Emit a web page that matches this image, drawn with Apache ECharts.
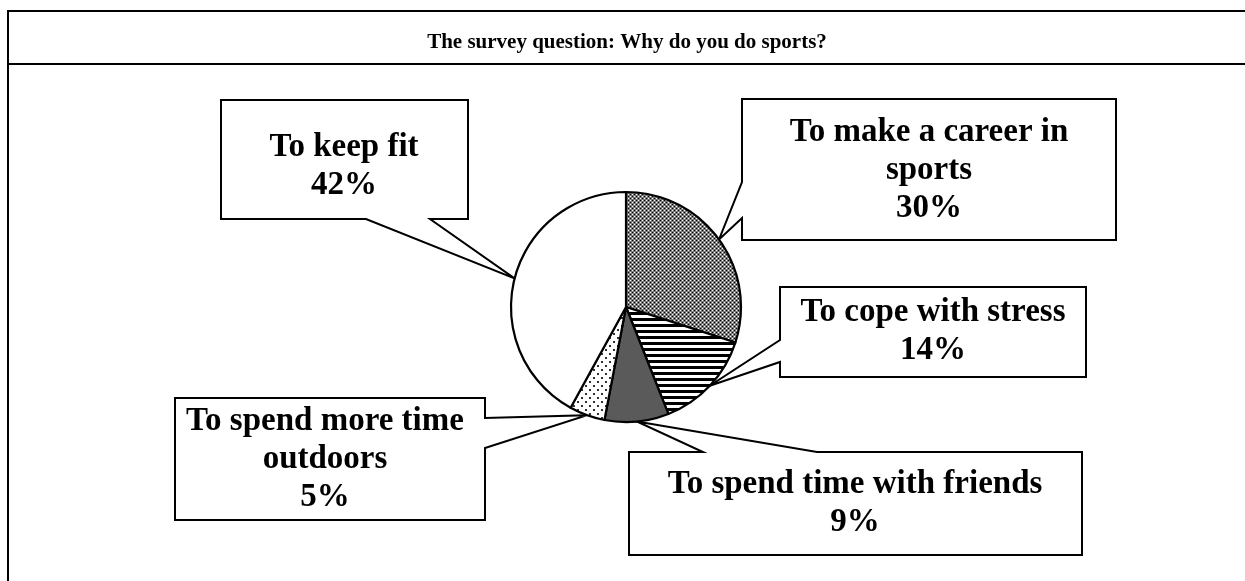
<!DOCTYPE html>
<html><head><meta charset="utf-8">
<script src="https://cdn.jsdelivr.net/npm/echarts@6/dist/echarts.min.js"></script>
<style>html,body{margin:0;padding:0;background:#fff}#c{width:1245px;height:581px}</style>
</head><body><div id="c"></div>
<script>
// ---- data ----
const categories = ['To make a career in\nsports', 'To cope with stress', 'To spend time with friends', 'To spend more time\noutdoors', 'To keep fit'];
const values = [30, 14, 9, 5, 42];
const titleText = 'The survey question: Why do you do sports?';

// ---- patterns ----
function makePattern(w, h, draw) {
  const c = document.createElement('canvas'); c.width = w; c.height = h;
  const g = c.getContext('2d'); draw(g); return { image: c, repeat: 'repeat' };
}
const patCareer = makePattern(4, 4, g => {
  g.fillStyle = '#7a7a7a'; g.fillRect(0, 0, 4, 4);
  g.fillStyle = '#000'; g.fillRect(0, 0, 1, 1); g.fillRect(2, 2, 1, 1);
  g.fillStyle = '#fff'; g.fillRect(2, 0, 1, 1); g.fillRect(0, 2, 1, 1);
});
const patStress = makePattern(8, 6, g => {
  g.fillStyle = '#fff'; g.fillRect(0, 0, 8, 6);
  g.fillStyle = '#000'; g.fillRect(0, 0, 8, 3);
});
const patOutdoor = makePattern(8, 8, g => {
  g.fillStyle = '#fff'; g.fillRect(0, 0, 8, 8);
  g.fillStyle = '#333'; g.fillRect(1, 1, 2, 2); g.fillRect(5, 5, 2, 2);
});
const sliceFills = [patCareer, patStress, '#5a5a5a', patOutdoor, '#ffffff'];

// ---- layout (positions of callouts) ----
const PIE_CENTER = [626, 307], PIE_R = 115;
const labelCenters = [[929, 170], [933, 331], [855, 503], [325, 459], [344, 166]];
const boxes = [
  { x0: 742, y0: 99, x1: 1116, y1: 240, side: 'left', a: 182, b: 218 },
  { x0: 780, y0: 287, x1: 1086, y1: 377, side: 'left', a: 340, b: 362 },
  { x0: 629, y0: 452, x1: 1082, y1: 555, side: 'top', a: 703, b: 817 },
  { x0: 175, y0: 398, x1: 485, y1: 520, side: 'right', a: 418, b: 448 },
  { x0: 221, y0: 100, x1: 468, y1: 219, side: 'bottom', a: 366, b: 430 }
];

const chart = echarts.init(document.getElementById('c'), null, { renderer: 'canvas' });
const FONT = '"Liberation Serif", "Times New Roman", serif';

chart.setOption({
  animation: false,
  backgroundColor: '#fff',
  title: {
    text: titleText, left: 622, top: 27, textAlign: 'center',
    textStyle: { fontFamily: FONT, fontWeight: 'bold', fontSize: 21, color: '#000' }
  },
  series: [{
    type: 'pie', center: PIE_CENTER, radius: PIE_R, startAngle: 90, clockwise: true,
    avoidLabelOverlap: false, silent: true,
    data: categories.map((n, i) => ({ name: n, value: values[i], itemStyle: { color: sliceFills[i] } })),
    itemStyle: { borderColor: '#000', borderWidth: 2.2 },
    label: {
      show: true, position: 'outside', color: '#000', fontFamily: FONT, fontWeight: 'bold',
      fontSize: 33, lineHeight: 38, align: 'center',
      formatter: p => p.name + '\n' + p.value + '%'
    },
    labelLine: { show: false },
    labelLayout: p => {
      const c = labelCenters[p.dataIndex];
      return { x: c[0], y: c[1], align: 'center', verticalAlign: 'middle' };
    },
    emphasis: { disabled: true }
  }]
});

// compute tips from the pie's own layout
function tipFor(i) {
  let lay = null;
  try { lay = chart.getModel().getSeriesByIndex(0).getData().getItemLayout(i); } catch (e) { lay = null; }
  if (lay && isFinite(lay.startAngle)) {
    const m = (lay.startAngle + lay.endAngle) / 2;
    return [lay.cx + lay.r * Math.cos(m), lay.cy + lay.r * Math.sin(m)];
  }
  const total = values.reduce((s, v) => s + v, 0);
  let cum = 0; for (let k = 0; k < i; k++) cum += values[k];
  const mid = -Math.PI / 2 + (cum + values[i] / 2) / total * 2 * Math.PI;
  return [PIE_CENTER[0] + PIE_R * Math.cos(mid), PIE_CENTER[1] + PIE_R * Math.sin(mid)];
}
function calloutPoints(b, tip) {
  const pts = [[b.x0, b.y0]];
  if (b.side === 'top') pts.push([b.a, b.y0], tip, [b.b, b.y0]);
  pts.push([b.x1, b.y0]);
  if (b.side === 'right') pts.push([b.x1, b.a], tip, [b.x1, b.b]);
  pts.push([b.x1, b.y1]);
  if (b.side === 'bottom') pts.push([b.b, b.y1], tip, [b.a, b.y1]);
  pts.push([b.x0, b.y1]);
  if (b.side === 'left') pts.push([b.x0, b.b], tip, [b.x0, b.a]);
  return pts;
}
const graphics = boxes.map((b, i) => ({
  type: 'polygon', z: 0, silent: true,
  shape: { points: calloutPoints(b, tipFor(i)) },
  style: { fill: '#fff', stroke: '#000', lineWidth: 2, lineJoin: 'miter' }
}));
const frame = { stroke: '#000', lineWidth: 2 };
graphics.push(
  { type: 'line', z: 1, silent: true, shape: { x1: 8, y1: 11, x2: 1245, y2: 11 }, style: frame },
  { type: 'line', z: 1, silent: true, shape: { x1: 8, y1: 64, x2: 1245, y2: 64 }, style: frame },
  { type: 'line', z: 1, silent: true, shape: { x1: 8, y1: 10, x2: 8, y2: 581 }, style: frame }
);
chart.setOption({ graphic: graphics });
</script>
</body></html>
